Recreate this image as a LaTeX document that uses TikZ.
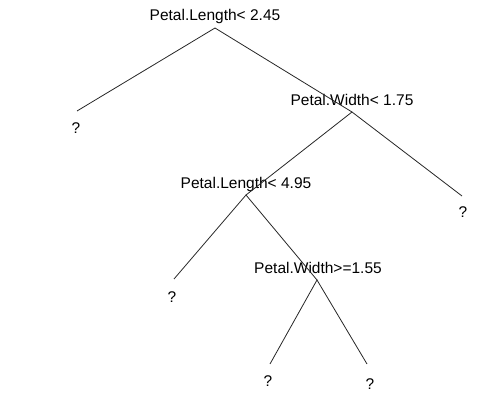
\documentclass[tikz,border=0pt]{standalone}
\usepackage{fontspec}
\setmainfont{Liberation Sans}
\begin{document}
\begin{tikzpicture}[x=1pt,y=-1pt,
  split/.style={anchor=base,inner sep=0pt,font=\fontsize{15.5}{18}\selectfont},
  leaf/.style={anchor=base,inner sep=0pt,font=\fontsize{15.5}{18}\selectfont},
  branch/.style={line width=0.8pt,draw=black!85}]
\useasboundingbox (0,0) rectangle (491,393);
% split points of the tree
\coordinate (j1) at (215,28);
\coordinate (j2) at (352,112);
\coordinate (j3) at (246,195);
\coordinate (j4) at (317,280);
% ends of branches above the leaves
\coordinate (e1) at (77,111);
\coordinate (e2) at (462,196);
\coordinate (e3) at (174,279);
\coordinate (e4) at (270,364);
\coordinate (e5) at (367,364);
% split labels
\node[split] (s1) at (215,21) {Petal.Length< 2.45};
\node[split] (s2) at (352,106) {Petal.Width< 1.75};
\node[split] (s3) at (246,189) {Petal.Length< 4.95};
\node[split] (s4) at (318,274) {Petal.Width>=1.55};
% leaves
\node[leaf] (l1) at (76,134) {?};
\node[leaf] (l2) at (463,218) {?};
\node[leaf] (l3) at (172,303) {?};
\node[leaf] (l4) at (268,387) {?};
\node[leaf] (l5) at (370,390) {?};
% branches
\draw[branch] (e1) -- (j1) -- (j2);
\draw[branch] (j3) -- (j2) -- (e2);
\draw[branch] (e3) -- (j3) -- (j4);
\draw[branch] (e4) -- (j4) -- (e5);
\end{tikzpicture}
\end{document}
